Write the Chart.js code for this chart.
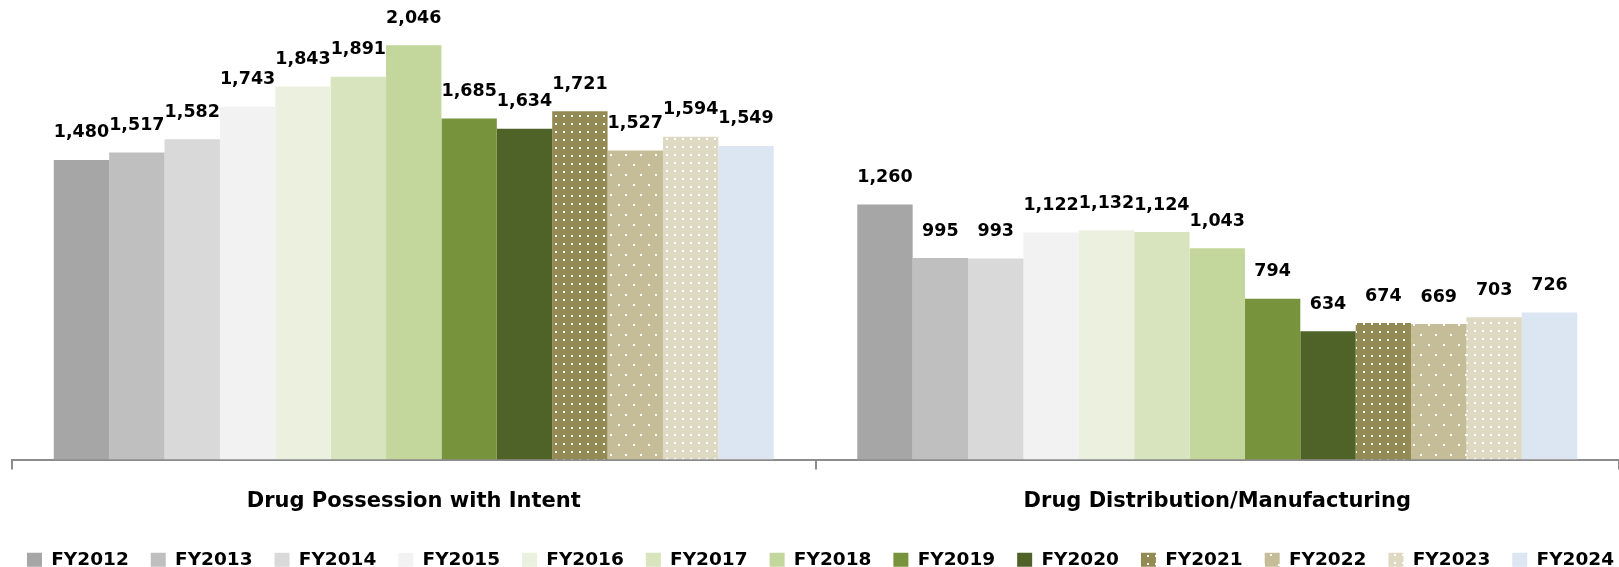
<!DOCTYPE html>
<html>
<head>
<meta charset="utf-8">
<script src="https://cdn.jsdelivr.net/npm/chart.js@4/dist/chart.umd.min.js"></script>
<style>
  html, body { margin: 0; padding: 0; background: #ffffff; overflow: hidden; }
  #wrap { width: 1619px; height: 567px; position: relative; }
</style>
</head>
<body>
<div id="wrap"><canvas id="c" width="1619" height="567"></canvas></div>
<script>
// ---- data ----
const categories = ['Drug Possession with Intent', 'Drug Distribution/Manufacturing'];
const years = ['FY2012','FY2013','FY2014','FY2015','FY2016','FY2017','FY2018','FY2019','FY2020','FY2021','FY2022','FY2023','FY2024'];
const possessionValues = [1480, 1517, 1582, 1743, 1843, 1891, 2046, 1685, 1634, 1721, 1527, 1594, 1549];
const distributionValues = [1260, 995, 993, 1122, 1132, 1124, 1043, 794, 634, 674, 669, 703, 726];

// ---- styles ----
const baseColors = ['#A6A6A6','#BFBFBF','#D9D9D9','#F2F2F2','#EBF1DE','#D7E4BD','#C3D69B','#77933C','#4F6228','#948A54','#C4BD97','#DDD9C3','#DCE6F2'];

function makePattern(bg, tileW, tileH, dots, size) {
  const c = document.createElement('canvas');
  c.width = tileW; c.height = tileH;
  const g = c.getContext('2d');
  g.fillStyle = bg; g.fillRect(0, 0, tileW, tileH);
  g.fillStyle = '#ffffff';
  dots.forEach(d => g.fillRect(d[0], d[1], size, size));
  return document.getElementById('c').getContext('2d').createPattern(c, 'repeat');
}
const fills = baseColors.slice();
fills[9] = makePattern('#948A54', 8, 8, [[3,3]], 2);
fills[10] = makePattern('#C4BD97', 15, 20, [[3,4],[10,14]], 2);
fills[11] = makePattern('#DDD9C3', 8, 8, [[2,2]], 2);

const FONT = 'DejaVu Sans';

const datasets = years.map((y, i) => ({
  label: y,
  data: [possessionValues[i], distributionValues[i]],
  backgroundColor: fills[i],
  borderWidth: 0,
  categoryPercentage: 0.896,
  barPercentage: 1.0,
  yAxisID: 'y'
}));

const valueLabels = {
  id: 'valueLabels',
  afterDatasetsDraw(chart) {
    const ctx = chart.ctx;
    ctx.save();
    ctx.font = 'bold 17.5px "' + FONT + '"';
    ctx.fillStyle = '#000000';
    ctx.textAlign = 'center';
    ctx.textBaseline = 'middle';
    chart.data.datasets.forEach((ds, di) => {
      const meta = chart.getDatasetMeta(di);
      meta.data.forEach((el, idx) => {
        const v = ds.data[idx];
        ctx.fillText(v.toLocaleString('en-US'), el.x, el.y - 27);
      });
    });
    ctx.restore();
  }
};

new Chart(document.getElementById('c'), {
  type: 'bar',
  data: { labels: categories, datasets },
  plugins: [valueLabels],
  options: {
    responsive: false,
    animation: false,
    layout: { padding: { left: 0, right: -22, top: 0, bottom: -12 } },
    plugins: {
      tooltip: { enabled: false },
      legend: {
        position: 'bottom',
        labels: {
          boxWidth: 15,
          boxHeight: 14,
          padding: 22,
          color: '#000000',
          font: { family: FONT, size: 18.5, weight: 'bold' }
        }
      }
    },
    scales: {
      x: {
        offset: true,
        grid: {
          offset: true,
          drawOnChartArea: false,
          drawTicks: true,
          tickLength: 10,
          color: '#8C8C8C',
          lineWidth: 2
        },
        border: { display: true, color: '#8C8C8C', width: 2 },
        ticks: {
          color: '#000000',
          padding: 19,
          font: { family: FONT, size: 21, weight: 'bold' },
          maxRotation: 0
        },
        afterFit(scale) { scale.height = 69; }
      },
      y: {
        position: 'left',
        min: 0,
        max: 2270,
        ticks: { display: false },
        grid: { display: false },
        border: { display: false },
        afterFit(scale) { scale.width = 12; }
      },
      yRight: {
        type: 'linear',
        position: 'right',
        min: 0,
        max: 2270,
        ticks: { display: false },
        grid: { display: false },
        border: { display: false },
        afterFit(scale) { scale.width = 18; }
      }
    }
  }
});
</script>
</body>
</html>
